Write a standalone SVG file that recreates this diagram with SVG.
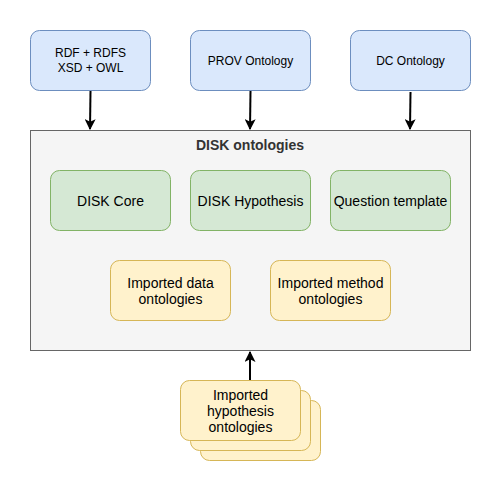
<svg xmlns="http://www.w3.org/2000/svg" width="501" height="491" viewBox="0 0 501 491">
<defs>
<style>
text{font-family:"Liberation Sans",Arial,Helvetica,sans-serif;font-size:14px;fill:#000;text-anchor:middle;dominant-baseline:central}
text.s{font-size:12px}
.blue{fill:#dae8fc;stroke:#6c8ebf;stroke-width:1}
.green{fill:#d5e8d4;stroke:#82b366;stroke-width:1}
.yellow{fill:#fff2cc;stroke:#d6b656;stroke-width:1}
.edge{fill:none;stroke:#000;stroke-width:2}
</style>
<marker id="arr" viewBox="0 0 10 10" refX="9" refY="5" markerWidth="5.5" markerHeight="5.5" markerUnits="strokeWidth" orient="auto">
<path d="M0,0 L10,5 L0,10 L2.5,5 Z" fill="#000"/>
</marker>
</defs>
<rect width="501" height="491" fill="#fff"/>
<g id="container">
<rect x="30.5" y="130.5" width="440" height="220" fill="#f5f5f5" stroke="#666"/>
<text x="250" y="145" style="font-weight:bold;fill:#333">DISK ontologies</text>
</g>
<g id="rdf">
<rect class="blue" x="30.5" y="30.5" width="120" height="60" rx="9"/>
<text class="s" x="90.5" y="53">RDF + RDFS</text>
<text class="s" x="90.5" y="68">XSD + OWL</text>
</g>
<g id="prov">
<rect class="blue" x="190.5" y="30.5" width="120" height="60" rx="9"/>
<text class="s" x="250.5" y="60.5">PROV Ontology</text>
</g>
<g id="dc">
<rect class="blue" x="350.5" y="30.5" width="120" height="60" rx="9"/>
<text class="s" x="410.5" y="60.5">DC Ontology</text>
</g>
<g id="core">
<rect class="green" x="50.5" y="170.5" width="120" height="60" rx="9"/>
<text x="110.5" y="200.5">DISK Core</text>
</g>
<g id="hyp">
<rect class="green" x="190.5" y="170.5" width="120" height="60" rx="9"/>
<text x="250.5" y="200.5">DISK Hypothesis</text>
</g>
<g id="qt">
<rect class="green" x="330.5" y="170.5" width="120" height="60" rx="9"/>
<text x="390.5" y="200.5">Question template</text>
</g>
<g id="data">
<rect class="yellow" x="110.5" y="260.5" width="120" height="60" rx="9"/>
<text x="170.5" y="283">Imported data</text>
<text x="170.5" y="299">ontologies</text>
</g>
<g id="method">
<rect class="yellow" x="270.5" y="260.5" width="120" height="60" rx="9"/>
<text x="330.5" y="283">Imported method</text>
<text x="330.5" y="299">ontologies</text>
</g>
<g id="hypo">
<rect class="yellow" x="200.5" y="400.5" width="120" height="60" rx="9"/>
<rect class="yellow" x="190.5" y="390.5" width="120" height="60" rx="9"/>
<rect class="yellow" x="180.5" y="380.5" width="120" height="60" rx="9"/>
<text x="240.5" y="395">Imported</text>
<text x="240.5" y="411">hypothesis</text>
<text x="240.5" y="427">ontologies</text>
</g>
<g id="connectors">
<path class="edge" d="M90.5,91 L90,129" marker-end="url(#arr)"/>
<path class="edge" d="M250.5,91 L250,129" marker-end="url(#arr)"/>
<path class="edge" d="M410.5,92 L410,129" marker-end="url(#arr)"/>
<path class="edge" d="M250,380 L250,352" marker-end="url(#arr)"/>
</g>
</svg>
